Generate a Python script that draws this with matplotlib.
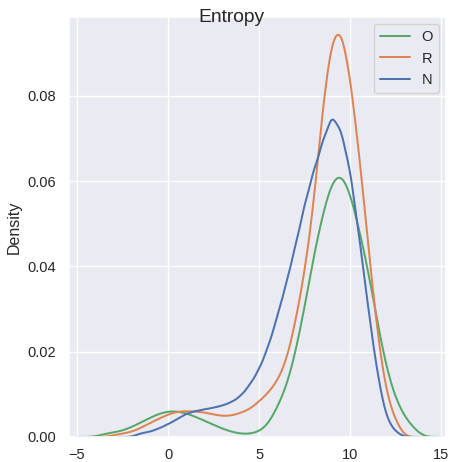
import matplotlib
matplotlib.use("Agg")
import matplotlib.pyplot as plt
import pandas as pd
import seaborn as sns
from matplotlib.lines import Line2D

# entropy bins and the weight (density) of each group per bin
entropy = [-3.5, -3.0, -2.5, -2.0, -1.5, -1.0, -0.5, 0.0, 0.5, 1.0, 1.5, 2.0,
           2.5, 3.0, 3.5, 4.0, 4.5, 5.0, 5.5, 6.0, 6.5, 7.0, 7.5, 8.0, 8.5,
           9.0, 9.5, 10.0, 10.5, 11.0, 11.5, 12.0, 12.5, 13.0, 13.5]

density_o = [0.0008, 0.0010, 0.0015, 0.0023, 0.0034, 0.0045, 0.0055, 0.0061,
             0.0061, 0.0056, 0.0048, 0.0038, 0.0029, 0.0019, 0.0012, 0.0007,
             0.0007, 0.0012, 0.0027, 0.0070, 0.0114, 0.0196, 0.0302, 0.0429,
             0.0525, 0.0608, 0.0628, 0.0580, 0.0488, 0.0394, 0.0269, 0.0158,
             0.0088, 0.0046, 0.0021]

density_r = [0.0, 0.0004, 0.0008, 0.0012, 0.0021, 0.0033, 0.0043, 0.0053,
             0.0060, 0.0061, 0.0060, 0.0058, 0.0053, 0.0049, 0.0050, 0.0057,
             0.0065, 0.0084, 0.0103, 0.0131, 0.0176, 0.0270, 0.0384, 0.0541,
             0.0780, 0.0945, 0.0972, 0.0852, 0.0668, 0.0451, 0.0240, 0.0098,
             0.0038, 0.0, 0.0]

density_n = [0.0, 0.0, 0.0, 0.0, 0.0009, 0.0012, 0.0020, 0.0030, 0.0042,
             0.0055, 0.0061, 0.0065, 0.0069, 0.0074, 0.0082, 0.0096, 0.0123,
             0.0158, 0.0211, 0.0282, 0.0362, 0.0449, 0.0546, 0.0627, 0.0694,
             0.0763, 0.0724, 0.0632, 0.0471, 0.0302, 0.0147, 0.0042, 0.0012,
             0.0, 0.0]

hue_order = ["N", "R", "O"]
legend_order = ["O", "R", "N"]

sns.set_theme(style="darkgrid")
plt.rcParams["font.family"] = ["Liberation Sans", "DejaVu Sans"]

n = len(entropy)
df = pd.DataFrame({
    "Entropy": entropy * 3,
    "group": ["O"] * n + ["R"] * n + ["N"] * n,
    "w": density_o + density_r + density_n,
})
df = df[df["w"] > 0]

fig = plt.figure(figsize=(449 / 96, 462 / 96), dpi=96)
ax = fig.add_axes([69 / 449, 1 - 437 / 462, 377 / 449, 420 / 462])

sns.kdeplot(data=df, x="Entropy", hue="group", weights="w", hue_order=hue_order,
            bw_adjust=0.2, common_norm=True, ax=ax, legend=False)

colors = dict(zip(hue_order, sns.color_palette("deep", 3)))
handles = [Line2D([], [], color=colors[g], lw=1.5) for g in legend_order]
ax.legend(handles, legend_order, loc="upper right")

ax.set_xlim(-5.44, 15.27)
ax.set_ylim(0, 0.0985)
ax.tick_params(axis="x", pad=2.5)
ax.set_xlabel("")
ax.set_ylabel("Density")
fig.suptitle("Entropy", x=0.515, y=0.98)

fig.savefig("out.png", dpi=96)
